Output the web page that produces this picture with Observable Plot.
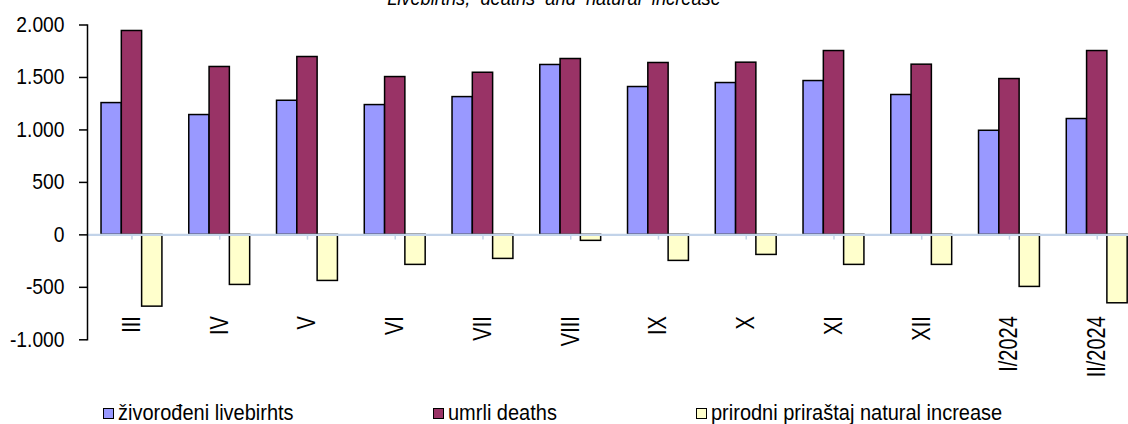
<!DOCTYPE html>
<html>
<head>
<meta charset="utf-8">
<script src="https://cdn.jsdelivr.net/npm/d3@7"></script>
<script src="https://cdn.jsdelivr.net/npm/@observablehq/plot@0.6"></script>
<style>
  html, body { margin: 0; padding: 0; background: white; overflow: hidden; }
  #wrap { position: relative; width: 1128px; height: 424px; overflow: hidden; background: white; }
  .f { font-family: "Liberation Sans", Arial, sans-serif; }
  #title { position: absolute; left: 254px; width: 600px; top: -12px; text-align: center; font-style: italic; font-size: 20.5px; line-height: 20px; white-space: pre; color: black; transform: scaleX(0.89); transform-origin: 300px 50%; }
  #chart { position: absolute; left: 0; top: 0; }
  .item { position: absolute; top: 402px; display: flex; align-items: center; font-size: 21.5px; line-height: 22px; color: black; white-space: nowrap; }
  .sw { width: 9px; height: 9px; border: 1.5px solid black; margin-right: 4px; flex: none; }
  .lt { display: inline-block; transform: scaleX(0.93); transform-origin: 0 50%; }
</style>
</head>
<body>
<div id="wrap" class="f">
  <div id="title" class="f">Livebirths,  deaths  and  natural  increase</div>
  <div id="chart"></div>
</div>
<script>
const months = ["III","IV","V","VI","VII","VIII","IX","X","XI","XII","I/2024","II/2024"];
const livebirths = [1256,1142,1278,1237,1313,1619,1409,1447,1466,1333,992,1104];
const deaths = [1943,1600,1695,1504,1545,1676,1638,1641,1752,1622,1485,1752];
const naturalIncrease = [-684,-477,-439,-286,-229,-57,-248,-191,-286,-286,-496,-652];
const yTicks = [-1000,-500,0,500,1000,1500,2000];
const seriesNames = ["živorođeni livebirhts","umrli deaths","prirodni priraštaj natural increase"];
const seriesColors = ["#9999ff","#993366","#ffffcc"];
const legendLeft = [103, 433, 696];

const FONT = '"Liberation Sans", Arial, sans-serif';
const fmt = d => (d < 0 ? "-" : "") + d3.format(",")(Math.abs(d)).replace(/,/g, ".");

const rows = (vals) => months.map((m, i) => ({month: m, value: vals[i]}));
const bw = 20.3;

const chart = Plot.plot({
  width: 1128,
  height: 390,
  marginLeft: 87,
  marginRight: 0,
  marginTop: 24.5,
  marginBottom: 50.7,
  style: {fontFamily: FONT, color: "black", background: "transparent"},
  x: {domain: months, range: [87.6, 1140.6], paddingInner: 0.7687, paddingOuter: 0.3843, round: false, axis: null},
  y: {domain: [-1000, 2000], axis: null},
  marks: [
    Plot.axisY({ticks: yTicks, tickFormat: fmt, tickSize: 8, tickPadding: 15, fontSize: 21.4, label: null, strokeWidth: 1.5}),
    Plot.barY(rows(livebirths), {x: "month", y: "value", fill: seriesColors[0], stroke: "black", strokeWidth: 1.5, dx: -bw}),
    Plot.barY(rows(deaths), {x: "month", y: "value", fill: seriesColors[1], stroke: "black", strokeWidth: 1.5}),
    Plot.barY(rows(naturalIncrease), {x: "month", y: "value", fill: seriesColors[2], stroke: "black", strokeWidth: 1.5, dx: bw}),
    Plot.ruleY([0], {stroke: "#c2d3e9", strokeWidth: 2.3}),
    Plot.ruleX(months, {x: d => d, y1: 0, y2: -50, stroke: "#c2d3e9", strokeWidth: 1.5}),
    Plot.frame({anchor: "left", stroke: "black", strokeWidth: 1.5}),
    Plot.text(months, {x: d => d, y: -775, text: d => d, rotate: -90, textAnchor: "end", fontSize: 25})
  ]
});
document.getElementById("chart").appendChild(chart);

function squeeze(sel, ratio) {
  chart.querySelectorAll(sel).forEach(t => {
    const L = t.getComputedTextLength();
    if (L > 0) {
      t.setAttribute("textLength", (L * ratio).toFixed(2));
      t.setAttribute("lengthAdjust", "spacingAndGlyphs");
    }
  });
}
squeeze('g[aria-label="y-axis tick label"] text', 0.9);
squeeze('g[aria-label="text"] text', 0.8);

const wrap = document.getElementById("wrap");
seriesNames.forEach((name, i) => {
  const it = document.createElement("div");
  it.className = "item";
  it.style.left = legendLeft[i] + "px";
  const sw = document.createElement("div");
  sw.className = "sw";
  sw.style.background = seriesColors[i];
  const tx = document.createElement("span");
  tx.className = "lt";
  tx.textContent = name;
  it.appendChild(sw);
  it.appendChild(tx);
  wrap.appendChild(it);
});
</script>
</body>
</html>
